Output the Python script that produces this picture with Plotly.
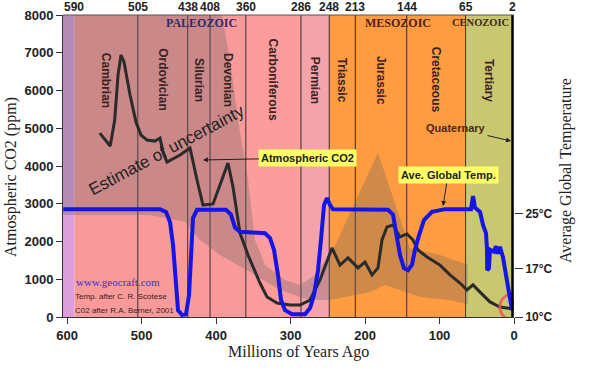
import plotly.graph_objects as go

# ---------------- data ----------------
periods = ["Cambrian", "Ordovician", "Silurian", "Devonian", "Carboniferous",
           "Permian", "Triassic", "Jurassic", "Cretaceous", "Tertiary"]
boundaries = [590, 505, 438, 408, 360, 286, 248, 213, 144, 65, 2]
boundary_labels = ["590", "505", "438", "408", "360", "286", "248", "213", "144", "65", "2"]
period_colors = ["#F99A9A", "#F99A9A", "#F99A9A", "#F99A9A", "#FC9C9C",
                 "#F5A3AB", "#FF9B40", "#FF9B40", "#FF9B40", "#C9C870"]
pre_cambrian_color = "#DCA0DC"

eras = ["PALEOZOIC", "MESOZOIC", "CENOZOIC"]
era_x = [420, 156, 45]
era_colors = ["#2E2A6E", "#4D2222", "#3A2A1A"]

# CO2 (ppm) after Berner
co2_age = [556, 542, 536, 531.5, 527.5, 523.5, 515.4, 507.4, 500.7, 492.6, 481.9, 475.2,
           471.1, 465.8, 448.3, 434.9, 425.5, 417.5, 404, 392, 383.9, 377.2, 367.8, 357,
           341, 331.5, 318, 300.7, 287.3, 273.8, 260.4, 244.3, 233.6, 222.8, 209.4, 200,
           190.6, 182.6, 177.2, 170.5, 162.4, 153, 143.6, 135.6, 128.9, 116.8, 99.3, 85.9,
           72.5, 63.1, 55, 45.6, 32.2, 18.8, 1.3]
co2_ppm = [4870, 4530, 5220, 6410, 6940, 6755, 5880, 5165, 4820, 4690, 4660, 4740,
           4370, 4105, 4290, 4475, 3630, 2965, 2995, 3630, 4080, 3445, 2225, 1640,
           900, 530, 370, 318, 318, 450, 980, 1830, 1375, 1565, 1300, 1455,
           1115, 1300, 2040, 2385, 2435, 2120, 2200, 2040, 1775, 1590, 1375, 1115,
           900, 715, 850, 660, 400, 265, 212]

# Average global temperature (deg C) after Scotese
temp_age = [605, 475.2, 467.1, 461.7, 457.7, 453.7, 451, 445.6, 440.3, 436.2, 433.6, 430.9,
            425.5, 386.6, 379.9, 374.5, 367.8, 334.2, 327.5, 322.2, 316.8, 312.8, 307.4,
            298, 280.5, 273.8, 268.5, 263.1, 259.1, 255, 251, 247, 243, 169.1, 162.4, 157,
            153, 147.7, 142.3, 136.9, 132.9, 127.5, 120.8, 110.1, 92.6, 57.7, 55, 52.3,
            45.6, 41.6, 37.6, 36.2, 36.0, 33.6, 32.2, 26.8, 24.2, 21.5, 18.8, 14.8, 9.4,
            5.4, 2.7]
temp_c = [25.7, 25.7, 25.3, 23.8, 20.5, 13.9, 11.0, 10.3, 10.4, 13.2, 19.8, 24.4,
          25.6, 25.6, 24.9, 23.0, 22.4, 22.2, 21.5, 19.8, 16.1, 12.5, 11.0,
          10.4, 10.4, 11.3, 13.2, 16.8, 21.2, 26.3, 27.3, 26.3, 25.7, 25.6, 24.9, 21.9,
          19.0, 17.1, 16.8, 17.6, 19.8, 21.9, 24.1, 25.3, 25.7, 25.7, 27.6, 25.9,
          25.3, 23.4, 22.2, 19.8, 16.8, 17.1, 19.8, 19.5, 20.3, 19.2, 20.2, 18.7, 15.0,
          12.8, 11.0]

# Estimate of uncertainty envelope (ppm)
unc_upper_age = [605.4, 392, 381.2, 370.5, 357, 347.7, 334.2, 307.4, 287.3, 267.1, 243,
                 182.6, 139.6, 99.3, 62]
unc_upper_ppm = [8000, 8000, 6810, 5220, 3630, 2040, 1380, 980, 850, 1110, 1775,
                 4345, 1830, 1640, 1380]
unc_lower_age = [62, 85.9, 126.2, 153, 173.2, 193.3, 220.1, 247, 273.8, 287.3, 314.1,
                 354.4, 394.6, 421.5, 441.6, 488.6, 605.4]
unc_lower_ppm = [340, 450, 530, 715, 850, 660, 556, 450, 450, 530, 715,
                 1190, 1640, 2040, 2520, 2700, 2700]

present_age = [1.5]
present_ppm = [265]
modern_age = [0]
modern_ppm = [370]

x_ticks = [600, 500, 400, 300, 200, 100, 0]
y_ticks = [0, 1000, 2000, 3000, 4000, 5000, 6000, 7000, 8000]
t_ticks = [10, 17, 25]
t_labels = ["10°C", "17°C", "25°C"]

X_RANGE = [605.4, 0]
Y_RANGE = [0, 8000]
T_RANGE = [10, 53.96]

SANS = "Liberation Sans"
SERIF = "Liberation Serif"

fig = go.Figure()

# ---------------- background bands ----------------
shapes = []
shapes.append(dict(type="rect", xref="x", yref="y", x0=X_RANGE[0], x1=boundaries[0],
                   y0=Y_RANGE[0], y1=Y_RANGE[1], fillcolor=pre_cambrian_color,
                   line=dict(width=0), layer="below"))
for i, name in enumerate(periods):
    shapes.append(dict(type="rect", xref="x", yref="y", x0=boundaries[i], x1=boundaries[i + 1],
                       y0=Y_RANGE[0], y1=Y_RANGE[1], fillcolor=period_colors[i],
                       line=dict(width=0), layer="below"))
for b in boundaries[1:-1]:
    shapes.append(dict(type="line", xref="x", yref="y", x0=b, x1=b, y0=Y_RANGE[0], y1=Y_RANGE[1],
                       line=dict(color="#3A2A2A", width=1), layer="below"))
shapes.append(dict(type="line", xref="x", yref="y", x0=boundaries[-1], x1=boundaries[-1],
                   y0=Y_RANGE[0], y1=Y_RANGE[1], line=dict(color="#000000", width=2.5),
                   layer="above"))
# top border
shapes.append(dict(type="line", xref="paper", yref="paper", x0=0, x1=1, y0=1, y1=1,
                   line=dict(color="#555", width=1), layer="above"))

# ---------------- uncertainty envelope ----------------
fig.add_trace(go.Scatter(x=unc_upper_age + unc_lower_age, y=unc_upper_ppm + unc_lower_ppm,
                         fill="toself", fillcolor="rgba(95,95,95,0.30)", mode="lines",
                         line=dict(width=0), hoverinfo="skip", showlegend=False))

# ---------------- series ----------------
fig.add_trace(go.Scatter(x=co2_age, y=co2_ppm, mode="lines", name="Atmospheric CO2",
                         line=dict(color="#2B2B2B", width=3), showlegend=False))
fig.add_trace(go.Scatter(x=temp_age, y=temp_c, mode="lines", name="Ave. Global Temp.",
                         yaxis="y2", line=dict(color="#1515E6", width=4), showlegend=False))
fig.add_trace(go.Scatter(x=present_age, y=present_ppm, mode="markers", showlegend=False,
                         marker=dict(symbol="circle-open", size=26,
                                     line=dict(color="rgba(235,85,85,0.8)", width=3),
                                     color="rgba(235,85,85,0.8)")))
fig.add_trace(go.Scatter(x=modern_age, y=modern_ppm, mode="markers", showlegend=False,
                         marker=dict(symbol="circle", size=6, color="#E8102A")))

# ---------------- annotations ----------------
ann = []
# boundary ages along the top
for b, lab in zip(boundaries, boundary_labels):
    ann.append(dict(x=b, y=1, xref="x", yref="paper", yanchor="middle", yshift=8,
                    text=lab, showarrow=False,
                    font=dict(family=SANS, size=12, color="#222", weight="bold")))
for i, name in enumerate(periods):
    mid = (boundaries[i] + boundaries[i + 1]) / 2
    ann.append(dict(x=mid, y=6280, xref="x", yref="y", text=name, textangle=90,
                    showarrow=False, font=dict(family=SANS, size=12, color="#3B2323",
                                               weight="bold")))
for name, ex, ec in zip(eras, era_x, era_colors):
    ann.append(dict(x=ex, y=7790, xref="x", yref="y", text=name, showarrow=False,
                    font=dict(family=SERIF, size=12 if name != "CENOZOIC" else 10.5,
                              color=ec, weight="bold")))

ann.append(dict(x=417.5, y=4160, xref="x", yref="y", ax=105, ay=-2, text="Atmospheric CO2",
                showarrow=True, arrowhead=2, arrowsize=1, arrowwidth=1, arrowcolor="#222",
                bgcolor="#FFFF66", borderpad=2,
                font=dict(family=SANS, size=11, color="#222", weight="bold")))
ann.append(dict(x=95.3, y=2940, xref="x", yref="y", ax=5, ay=-31, text="Ave. Global Temp.",
                showarrow=True, arrowhead=2, arrowsize=1, arrowwidth=1, arrowcolor="#222",
                bgcolor="#FFFF66", borderpad=2,
                font=dict(family=SANS, size=11, color="#222", weight="bold")))
ann.append(dict(x=4, y=4660, xref="x", yref="y", ax=-55, ay=-13, text="Quaternary",
                showarrow=True, arrowhead=2, arrowsize=1, arrowwidth=1, arrowcolor="#222",
                font=dict(family=SANS, size=11, color="#4A2A10", weight="bold")))
ann.append(dict(x=467, y=4420, xref="x", yref="y", text="Estimate of uncertainty",
                textangle=-28, showarrow=False,
                font=dict(family=SANS, size=17, color="#222")))
ann.append(dict(x=590.6, y=927, xref="x", yref="y", text="www.geocraft.com", xanchor="left",
                showarrow=False, font=dict(family=SERIF, size=11, color="#3B2FC9")))
ann.append(dict(x=592, y=530, xref="x", yref="y", text="Temp. after C. R. Scotese",
                xanchor="left", showarrow=False, font=dict(family=SANS, size=8, color="#3A1A1A")))
ann.append(dict(x=592, y=185, xref="x", yref="y", text="C02 after R.A. Berner, 2001",
                xanchor="left", showarrow=False, font=dict(family=SANS, size=8, color="#3A1A1A")))

# axis titles
ann.append(dict(x=0, y=0.5, xref="paper", yref="paper", xanchor="center", yanchor="middle",
                xshift=-52, yshift=-11,
                text="Atmospheric CO2 (ppm)", textangle=-90, showarrow=False,
                font=dict(family=SERIF, size=16, color="#222")))
ann.append(dict(x=1, y=0.5, xref="paper", yref="paper", xanchor="center", yanchor="middle",
                xshift=52, yshift=-5,
                text="Average Global Temperature", textangle=-90, showarrow=False,
                font=dict(family=SERIF, size=16, color="#222")))
ann.append(dict(x=0.5, y=0, xref="paper", yref="paper", xanchor="center", yanchor="middle",
                xshift=10, yshift=-35,
                text="Millions of Years Ago", showarrow=False,
                font=dict(family=SERIF, size=16, color="#222")))

tickfont = dict(family=SANS, size=13, color="#222", weight="bold")

fig.update_layout(
    width=599, height=376,
    margin=dict(l=63, r=85, t=15, b=59, autoexpand=False),
    paper_bgcolor="white", plot_bgcolor="white",
    showlegend=False,
    shapes=shapes, annotations=ann,
    xaxis=dict(range=X_RANGE, autorange=False, tickvals=x_ticks, ticks="outside", ticklen=6,
               tickcolor="#333", showline=True, linecolor="#333", linewidth=1,
               showgrid=False, zeroline=False, tickfont=tickfont, tickangle=0,
               automargin=False),
    yaxis=dict(range=Y_RANGE, autorange=False, tickvals=y_ticks, ticks="outside", ticklen=6,
               tickcolor="#333", showline=True, linecolor="#333", linewidth=1,
               showgrid=False, zeroline=False, tickfont=tickfont, automargin=False),
    yaxis2=dict(range=T_RANGE, autorange=False, overlaying="y", side="right",
                tickvals=t_ticks, ticktext=t_labels, ticks="outside", ticklen=8,
                tickcolor="#333", showline=False, showgrid=False, zeroline=False,
                automargin=False,
                tickfont=dict(family=SANS, size=12, color="#222", weight="bold")),
)

fig.write_html("out.html", config={"displayModeBar": False},
               post_script="document.body.style.margin='0';document.body.style.overflow='hidden';")
